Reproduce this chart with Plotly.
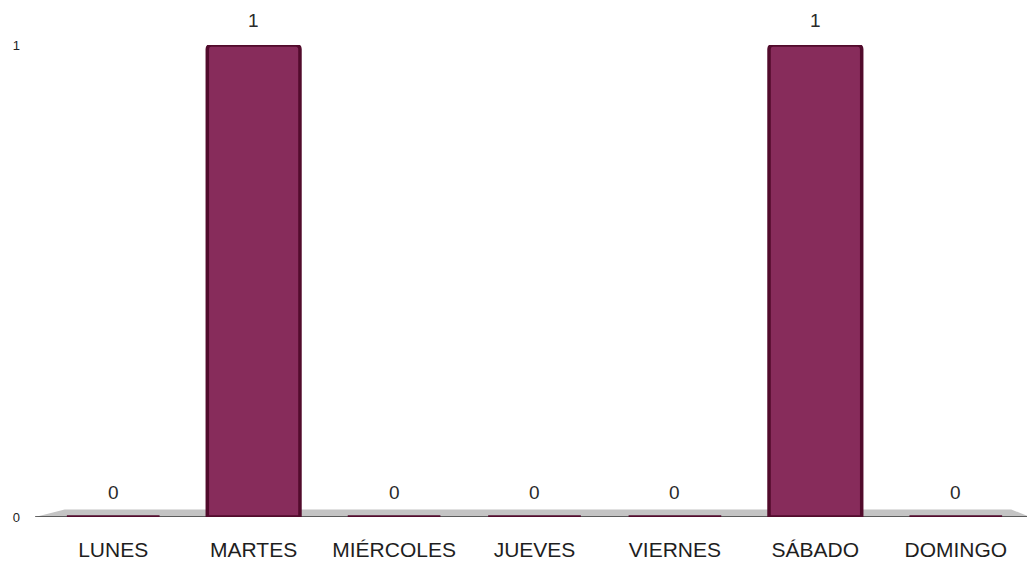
import plotly.graph_objects as go

categories = ["LUNES", "MARTES", "MIÉRCOLES", "JUEVES", "VIERNES", "SÁBADO", "DOMINGO"]
values = [0, 1, 0, 0, 0, 1, 0]
y_ticks = [0, 1]

FONT = "Liberation Sans, Arial, sans-serif"

fig = go.Figure()
fig.add_trace(go.Bar(
    x=categories,
    y=values,
    marker=dict(color="#872c5b", line=dict(color="#520b2c", width=3.5), cornerradius=4),
    width=0.66,
))

# value labels above the bars
for c, v in zip(categories, values):
    fig.add_annotation(x=c, y=v, text=str(v), showarrow=False,
                       yanchor="bottom", yshift=12,
                       font=dict(family=FONT, size=19, color="#2a2a2a"))

# floor (perspective base)
fig.add_shape(type="path", xref="paper", yref="y",
              path="M -0.008,0 L 0.022,0.016 L 0.985,0.016 L 1.004,0 Z",
              fillcolor="#c4c4c4", line=dict(width=0), layer="below")
fig.add_shape(type="line", xref="paper", yref="y", x0=-0.008, x1=1.004, y0=0, y1=0,
              line=dict(color="#3a3a3a", width=1.5), layer="below")

# page body has an 8px margin; size the figure to fill the rest of the window
fig.update_layout(
    width=1027, height=557,
    margin=dict(l=35, r=9, t=37, b=48),
    paper_bgcolor="white", plot_bgcolor="white",
    showlegend=False,
    font=dict(family=FONT, color="#222222"),
)
fig.update_xaxes(showgrid=False, showline=False, zeroline=False, automargin=False,
                 tickfont=dict(size=21, color="#1e1e1e"), ticklabelstandoff=18)
fig.update_yaxes(range=[0, 1], tickvals=y_ticks, ticktext=[str(t) for t in y_ticks],
                 showgrid=True, gridcolor="#e4e4e4", gridwidth=2, zeroline=False,
                 showline=False, automargin=False, tickfont=dict(size=13, color="#222222"),
                 ticklabelstandoff=22)

fig.write_html("out.html")
